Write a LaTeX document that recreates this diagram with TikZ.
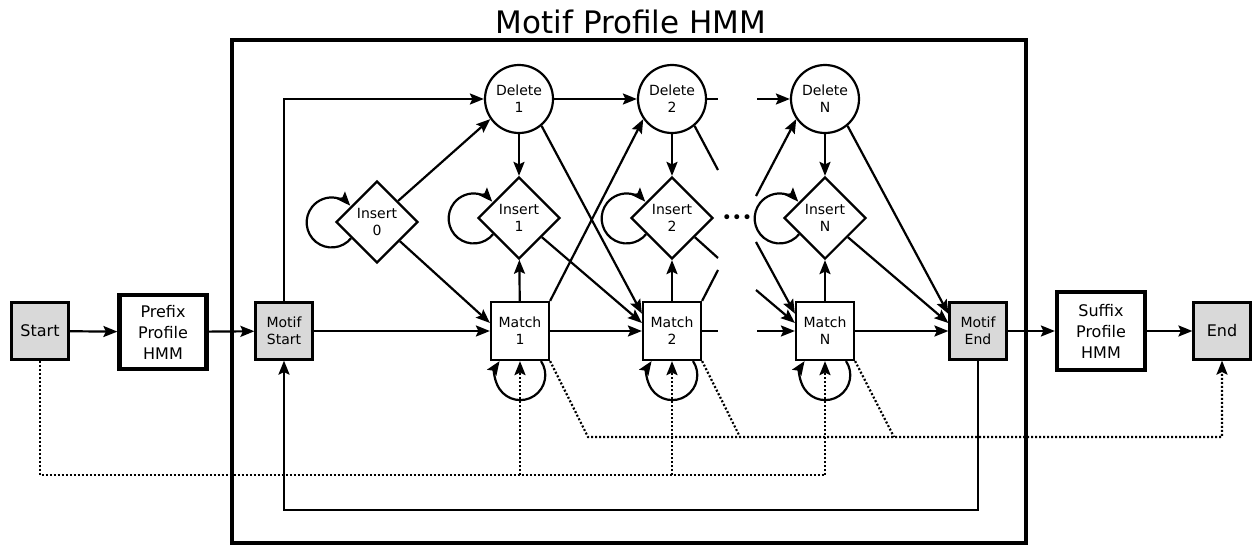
\documentclass[tikz,border=0pt]{standalone}
\usepackage{fontspec}
\setmainfont{DejaVu Sans}
\usetikzlibrary{shapes.geometric,arrows.meta}
\definecolor{boxgray}{RGB}{217,217,217}
\tikzset{
 base/.style={draw, line width=2.2pt, align=center, inner sep=0pt, font=\fontsize{14}{17}\selectfont},
 graybox/.style={base, fill=boxgray, minimum width=57pt, minimum height=57pt},
 matchbox/.style={base, fill=white, minimum width=58pt, minimum height=58pt},
 delcirc/.style={base, circle, fill=white, minimum size=68pt},
 insdiam/.style={base, diamond, aspect=1, fill=white, minimum size=82pt},
 hmmbox/.style={base, line width=4.2pt, fill=white, font=\fontsize{16}{21}\selectfont},
 tip/.style={-{Stealth[length=14pt,width=11pt,inset=2.5pt]}},
 arr/.style={line width=2.2pt, tip},
 ln/.style={line width=2.2pt},
 dotl/.style={line width=2.2pt, dash pattern=on 2pt off 2pt},
 dotarr/.style={dotl, tip},
}
\begin{document}
\begin{tikzpicture}[x=1pt,y=1pt]
\useasboundingbox (0,0) rectangle (1253,-546);
% title and outer frame
\node (title) at (631,-21.5) {\fontsize{31}{36}\selectfont Motif Profile HMM};
\draw[line width=4.8pt] (232,-40) rectangle (1026,-543);
% nodes
\node[graybox, font=\fontsize{16}{20}\selectfont] (start) at (40,-331) {Start};
\node[hmmbox, minimum width=87pt, minimum height=74pt] (prefix) at (163,-332) {Prefix\\Profile\\HMM};
\node[graybox] (ms) at (284,-331) {Motif\\Start};
\node[insdiam] (i0) at (377,-222) {Insert\\0};
\node[delcirc] (d1) at (519,-99) {Delete\\1};
\node[delcirc] (d2) at (672,-99) {Delete\\2};
\node[delcirc] (dN) at (825,-99) {Delete\\N};
\node[insdiam] (i1) at (519,-218) {Insert\\1};
\node[insdiam] (i2) at (672,-218) {Insert\\2};
\node[insdiam] (iN) at (825,-218) {Insert\\N};
\node[matchbox] (m1) at (520,-331) {Match\\1};
\node[matchbox] (m2) at (672,-331) {Match\\2};
\node[matchbox] (mN) at (825,-331) {Match\\N};
\node[graybox] (me) at (978,-331) {Motif\\End};
\node[hmmbox, minimum width=88pt, minimum height=78pt] (suffix) at (1101,-331) {Suffix\\Profile\\HMM};
\node[graybox, font=\fontsize{16}{20}\selectfont] (end) at (1222,-331) {End};
\node (dots) at (737,-219) {\fontsize{17}{17}\selectfont •••};
% helper coordinates
\coordinate (yb) at (0,-510);
\coordinate (yd) at (0,-475);
\coordinate (sD2a) at (718,-99);
\coordinate (sD2b) at (718,-170);
\coordinate (sI2) at (718,-258);
\coordinate (sM2a) at (718,-270);
\coordinate (sM2b) at (718,-331);
\coordinate (sDNa) at (757,-99);
\coordinate (sDNb) at (756,-196);
\coordinate (sMNa) at (756,-242);
\coordinate (sMNb) at (756,-290);
\coordinate (sMNc) at (757,-331);
\coordinate (e1) at (588,-437);
\coordinate (e2) at (740,-437);
\coordinate (eN) at (894,-437);
% main chain
\draw[arr] (start) -- (prefix);
\draw[arr] (prefix) -- (ms);
\draw[arr] (ms) -- (m1);
\draw[arr] (ms.north) |- (d1);
\draw[arr] (m1) -- (m2);
\draw[arr] (d1) -- (d2);
\draw[arr] (mN) -- (me);
\draw[arr] (me) -- (suffix);
\draw[arr] (suffix) -- (end);
% insert 0
\draw[arr] (i0.212) arc[start angle=-39, end angle=-318, radius=25];
\draw[arr] (i0.45) -- (d1.215);
\draw[arr] (i0.-40) -- (m1.165);
% column 1
\draw[arr] (d1) -- (i1);
\draw[arr] (m1) -- (i1);
\draw[arr] (i1.212) arc[start angle=-39, end angle=-318, radius=25];
\draw[arr] (d1.-50) -- (m2.150);
\draw[arr] (i1.-40) -- (m2.165);
\draw[arr] (m1.north east) -- (d2.215);
\draw[arr] ([xshift=21pt]m1.south) arc[start angle=34, end angle=-214, radius=25];
% column 2
\draw[arr] (d2) -- (i2);
\draw[arr] (m2) -- (i2);
\draw[arr] (i2.212) arc[start angle=-39, end angle=-318, radius=25];
\draw[arr] ([xshift=21pt]m2.south) arc[start angle=34, end angle=-214, radius=25];
\draw[ln] (d2) -- (sD2a);
\draw[ln] (d2.-50) -- (sD2b);
\draw[ln] (i2.-40) -- (sI2);
\draw[ln] (m2.north east) -- (sM2a);
\draw[ln] (m2) -- (sM2b);
% column N
\draw[arr] (sDNa) -- (dN);
\draw[arr] (sDNb) -- (dN.215);
\draw[arr] (sMNa) -- (mN.150);
\draw[arr] (sMNb) -- (mN.165);
\draw[arr] (sMNc) -- (mN);
\draw[arr] (dN) -- (iN);
\draw[arr] (mN) -- (iN);
\draw[arr] (iN.212) arc[start angle=-39, end angle=-318, radius=25];
\draw[arr] ([xshift=21pt]mN.south) arc[start angle=34, end angle=-214, radius=25];
\draw[arr] (dN.-50) -- (me.150);
\draw[arr] (iN.-40) -- (me.165);
% feedback
\draw[arr] (me.south) -- (me.south |- yb) -| (ms.south);
% dotted start -> matches
\draw[dotl] (start.south) |- (mN.south |- yd);
\draw[dotarr] (m1.south |- yd) -- (m1.south);
\draw[dotarr] (m2.south |- yd) -- (m2.south);
\draw[dotarr] (mN.south |- yd) -- (mN.south);
% dotted matches -> end
\draw[dotarr] (m1.south east) -- (e1) -| (end.south);
\draw[dotl] (m2.south east) -- (e2);
\draw[dotl] (mN.south east) -- (eN);
\end{tikzpicture}
\end{document}
